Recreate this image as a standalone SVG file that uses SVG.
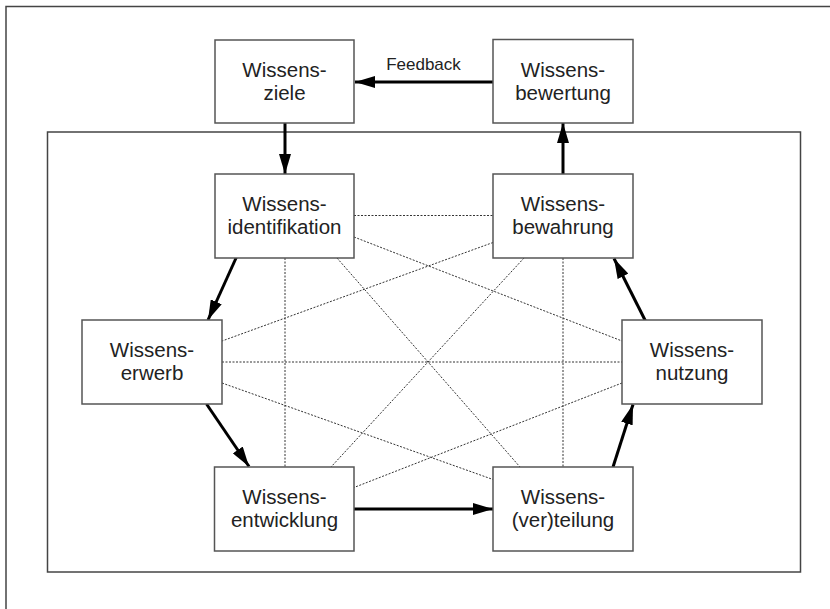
<svg xmlns="http://www.w3.org/2000/svg" width="830" height="609" viewBox="0 0 830 609">
<style>
.box{fill:#fff;stroke:#555;stroke-width:1.5}
.t{font-family:"Liberation Sans",Arial,sans-serif;font-size:20.5px;fill:#222;text-anchor:middle}
.fb{font-family:"Liberation Sans",Arial,sans-serif;font-size:17px;fill:#222;text-anchor:middle}
.frame{fill:none;stroke:#444;stroke-width:1.5}
.dot{stroke:#333;stroke-width:1;stroke-dasharray:2 1.5;fill:none}
.arr{stroke:#000;stroke-width:3;fill:none;marker-end:url(#ah)}
</style>
<defs>
<marker id="ah" markerUnits="userSpaceOnUse" markerWidth="20" markerHeight="12" refX="20" refY="6" orient="auto">
<path d="M0,0 L20,6 L0,12 z" fill="#000"/>
</marker>
</defs>
<rect width="830" height="609" fill="#fff"/>
<path class="frame" d="M6,620 L6,6.5 L840,6.5"/>
<rect class="frame" x="47.5" y="132" width="753" height="440"/>
<g id="connectors">
<line class="dot" x1="354" y1="215.5" x2="493" y2="215.5"/>
<line class="dot" x1="354" y1="237" x2="622" y2="341"/>
<line class="dot" x1="285" y1="258" x2="285" y2="467"/>
<line class="dot" x1="337" y1="258" x2="520" y2="467"/>
<line class="dot" x1="493" y1="242.5" x2="222" y2="341"/>
<line class="dot" x1="524" y1="258" x2="331" y2="467"/>
<line class="dot" x1="563" y1="258" x2="563" y2="467"/>
<line class="dot" x1="222" y1="362" x2="622" y2="362"/>
<line class="dot" x1="222" y1="383" x2="493" y2="479.5"/>
<line class="dot" x1="622" y1="383" x2="354" y2="487.5"/>
<line class="arr" x1="493" y1="82" x2="355" y2="82"/>
<line class="arr" x1="285" y1="123" x2="285" y2="174"/>
<line class="arr" x1="563" y1="174" x2="563" y2="123"/>
<line class="arr" x1="236.5" y1="257" x2="208" y2="320"/>
<line class="arr" x1="206.5" y1="404" x2="249" y2="466.5"/>
<line class="arr" x1="354" y1="509" x2="493" y2="509"/>
<line class="arr" x1="613" y1="467" x2="633" y2="404.5"/>
<line class="arr" x1="645.5" y1="321" x2="614" y2="258.5"/>
</g>
<text class="fb" x="423.5" y="70">Feedback</text>
<g id="ziele">
<rect class="box" x="215" y="40" width="139" height="83"/>
<text class="t" x="284.5" y="76.5">Wissens-</text>
<text class="t" x="284.5" y="99.5">ziele</text>
</g>
<g id="bewertung">
<rect class="box" x="493" y="39.5" width="140" height="83.5"/>
<text class="t" x="563" y="76.5">Wissens-</text>
<text class="t" x="563" y="99.5">bewertung</text>
</g>
<g id="identifikation">
<rect class="box" x="215" y="174" width="139" height="84"/>
<text class="t" x="284.5" y="210.5">Wissens-</text>
<text class="t" x="284.5" y="233.5">identifikation</text>
</g>
<g id="bewahrung">
<rect class="box" x="493" y="174" width="140" height="84"/>
<text class="t" x="563" y="210.5">Wissens-</text>
<text class="t" x="563" y="233.5">bewahrung</text>
</g>
<g id="erwerb">
<rect class="box" x="82" y="320" width="140" height="84"/>
<text class="t" x="152" y="356.5">Wissens-</text>
<text class="t" x="152" y="379.5">erwerb</text>
</g>
<g id="nutzung">
<rect class="box" x="622" y="320" width="140" height="84"/>
<text class="t" x="692" y="356.5">Wissens-</text>
<text class="t" x="692" y="379.5">nutzung</text>
</g>
<g id="entwicklung">
<rect class="box" x="214.5" y="467" width="139.5" height="84"/>
<text class="t" x="284.5" y="503.5">Wissens-</text>
<text class="t" x="284.5" y="526.5">entwicklung</text>
</g>
<g id="verteilung">
<rect class="box" x="493" y="467" width="140" height="84"/>
<text class="t" x="563" y="503.5">Wissens-</text>
<text class="t" x="563" y="526.5">(ver)teilung</text>
</g>
</svg>
